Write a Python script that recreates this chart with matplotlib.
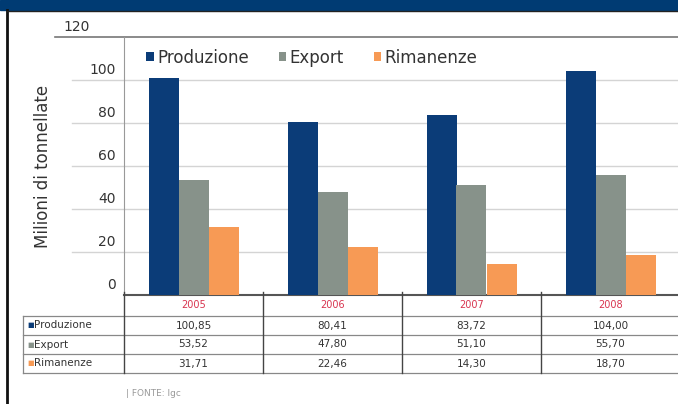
import numpy as np
import matplotlib
matplotlib.use("Agg")
import matplotlib.pyplot as plt
import matplotlib.transforms as mtransforms
from matplotlib.patches import Rectangle
from matplotlib.lines import Line2D

years = ["2005", "2006", "2007", "2008"]
series = ["Produzione", "Export", "Rimanenze"]
produzione = [100.85, 80.41, 83.72, 104.00]
export = [53.52, 47.80, 51.10, 55.70]
rimanenze = [31.71, 22.46, 14.30, 18.70]
yticks = [0, 20, 40, 60, 80, 100, 120]

colors = ["#0b3c78", "#87928a", "#f79a55"]
W, H = 678, 404

fig = plt.figure(figsize=(W / 100, H / 100), dpi=100)
fig.patch.set_facecolor("white")

def fx(px):
    return px / W

def fy(py):
    return 1 - py / H

# header band and frame
fig.patches.append(Rectangle((0, fy(10)), 1, 10 / H, transform=fig.transFigure,
                             color="#003b73", zorder=0))
fig.lines.append(Line2D([fx(7), fx(7)], [0, fy(10)], transform=fig.transFigure,
                        color="#111111", lw=2))
fig.lines.append(Line2D([fx(7), 1], [fy(10.5), fy(10.5)], transform=fig.transFigure,
                        color="#222222", lw=1))

# main axes: x 124..680 px, y 37..295 px
ax = fig.add_axes([fx(124), fy(295), fx(680 - 124), (295 - 37) / H])
x = np.arange(len(years)) + 0.5
bw = 30 / 139
data = [produzione, export, rimanenze]
handles = []
for i, (vals, name) in enumerate(zip(data, series)):
    b = ax.bar(x + (i - 1) * bw, vals, bw, color=colors[i], label=name, zorder=3)
    handles.append(b)

ax.set_xlim(0, 4)
ax.set_ylim(0, 120)
ax.set_xticks([])
ax.set_yticks(yticks)
ax.tick_params(axis="y", length=0, pad=6, labelsize=10, labelcolor="#333333")
offs = mtransforms.ScaledTranslation(0, 10 / 100, fig.dpi_scale_trans)
for lab in ax.get_yticklabels():
    lab.set_transform(lab.get_transform() + offs)
    lab.set_verticalalignment("center")
toplab = ax.get_yticklabels()[-1]
toplab.set_transform(toplab.get_transform() +
                     mtransforms.ScaledTranslation(-26 / 100, 0, fig.dpi_scale_trans))

# gridlines extend left of the axis
ytr = ax.get_yaxis_transform()
for v in yticks[1:-1]:
    ax.plot([-52 / 556, 1], [v, v], transform=ytr, color="#d4d4d4", lw=1,
            clip_on=False, zorder=1)
ax.plot([-69 / 556, 1], [120, 120], transform=ytr, color="#777777", lw=1.2,
        clip_on=False, zorder=1)

for s in ["top", "right"]:
    ax.spines[s].set_visible(False)
ax.spines["left"].set_color("#999999")
ax.spines["bottom"].set_color("#555555")
ax.spines["bottom"].set_linewidth(1.5)

ax.set_ylabel("Milioni di tonnellate", fontsize=12, color="#333333")
ax.yaxis.set_label_coords(-72 / 556, 0.5)

ax.legend(handles=handles, loc="upper left", bbox_to_anchor=(0.04, 0.955),
          ncol=3, frameon=False, fontsize=12, handlelength=0.45, handleheight=0.45,
          handletextpad=0.2, columnspacing=1.8, borderpad=0, borderaxespad=0,
          labelcolor="#333333")

# data table below the axes, rows in pixel units
axt = fig.add_axes([fx(124), fy(373), fx(680 - 124), (373 - 295) / H])
axt.set_xlim(0, 4)
axt.set_ylim(373, 295)
axt.axis("off")
lab_left = -101 / 139
row_edges = [316, 335, 354, 373]
for yy in row_edges:
    axt.plot([lab_left, 4], [yy, yy], color="#888888", lw=0.9, clip_on=False)
for xx in range(4):
    axt.plot([xx, xx], [292, 373], color="#444444", lw=1, clip_on=False)
axt.plot([lab_left, lab_left], [316, 373], color="#888888", lw=0.9, clip_on=False)

for j, yr in enumerate(years):
    axt.text(x[j], 305.5, yr, ha="center", va="center", fontsize=7,
             color="#d8344f")
for i, (vals, name) in enumerate(zip(data, series)):
    yc = (row_edges[i] + row_edges[i + 1]) / 2
    axt.text(lab_left + 0.03, yc, "\u25a0", ha="left", va="center", fontsize=5,
             color=colors[i], clip_on=False)
    axt.text(lab_left + 0.08, yc, name, ha="left", va="center", fontsize=7.5,
             color="#333333", clip_on=False)
    for j, v in enumerate(vals):
        axt.text(x[j], yc, f"{v:.2f}".replace(".", ","), ha="center", va="center",
                 fontsize=7.5, color="#333333")

fig.text(fx(126), fy(394), "| FONTE: Igc", fontsize=6.5, color="#9a9a9a",
         va="center", ha="left")

fig.savefig("out.png", dpi=100)
